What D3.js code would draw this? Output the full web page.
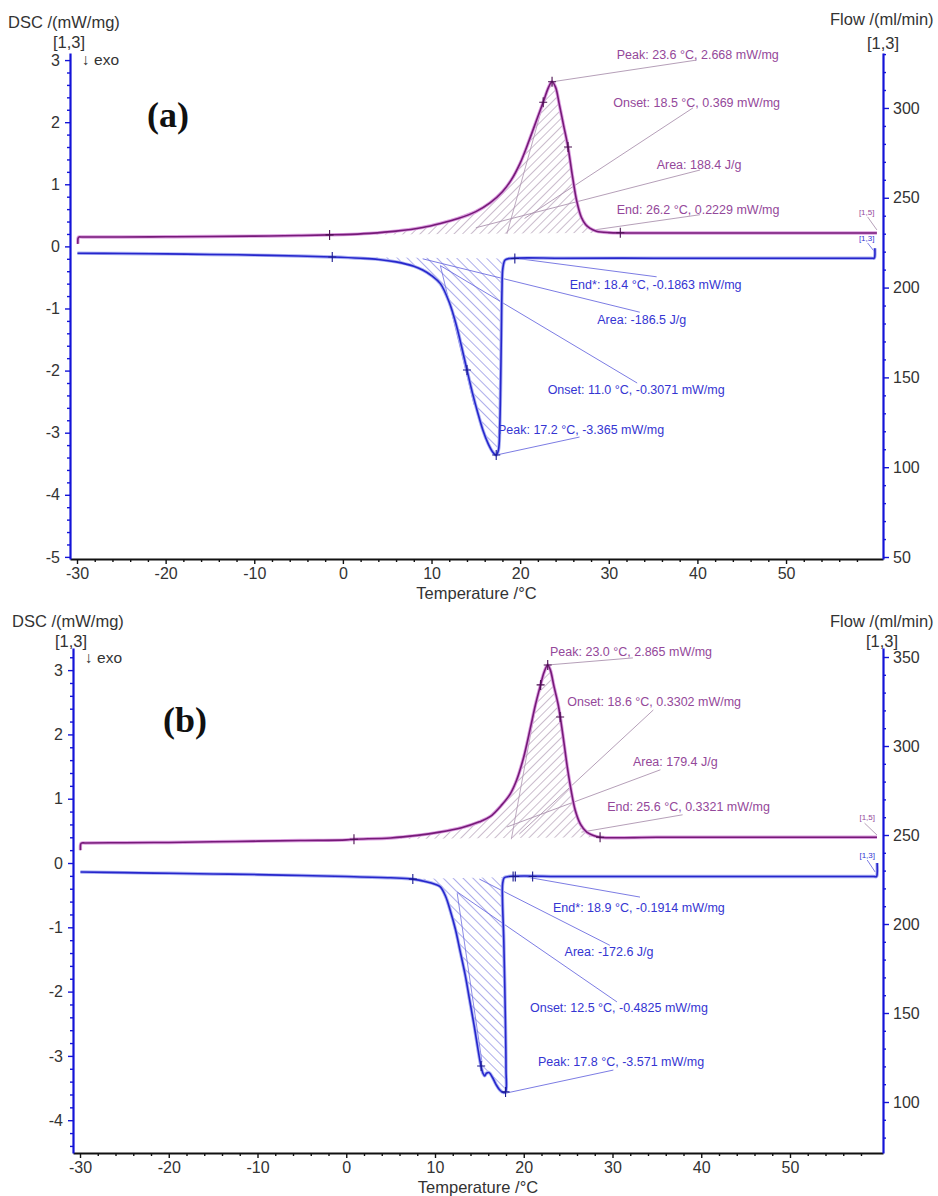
<!DOCTYPE html>
<html><head><meta charset="utf-8">
<script src="https://cdn.jsdelivr.net/npm/d3@7"></script>
<style>
body{margin:0;background:#fff}
svg{display:block}
</style>
</head><body>
<svg id="c" width="938" height="1196"></svg>
<script>
// ---------------- DATA ----------------
const xTicksMajor = [-30,-20,-10,0,10,20,30,40,50];
const dscTicksA = [3,2,1,0,-1,-2,-3,-4,-5];
const flowTicksA = [300,250,200,150,100,50];
const dscTicksB = [3,2,1,0,-1,-2,-3,-4];
const flowTicksB = [350,300,250,200,150,100];

// [Temperature °C, DSC mW/mg]
const heatA = [[-29.9,0.04],[-29.88,0.13],[-29.8,0.15],[-29.4,0.151],[-25,0.152],[-20,0.155],[-15,0.16],[-10,0.165],[-5,0.175],[-1.5,0.185],[0,0.19],[3,0.21],[6,0.245],[9,0.305],[11,0.37],[13,0.45],[15,0.56],[16.6,0.7],[18,0.88],[19,1.07],[20,1.34],[21,1.7],[21.9,2.05],[22.6,2.32],[23.2,2.56],[23.6,2.65],[24.0,2.56],[24.4,2.3],[24.9,1.95],[25.4,1.6],[25.9,1.13],[26.4,0.72],[26.9,0.47],[27.4,0.35],[27.9,0.29],[28.6,0.245],[30,0.222],[35,0.215],[40,0.215],[50,0.215],[59.5,0.215],[60.25,0.215]];
const coolA = [[-29.95,-0.11],[-25,-0.115],[-20,-0.12],[-15,-0.13],[-10,-0.14],[-5,-0.155],[-1.2,-0.17],[2,-0.19],[4,-0.21],[6,-0.25],[8,-0.32],[9,-0.38],[10,-0.47],[11,-0.6],[12,-0.9],[12.8,-1.27],[13.4,-1.62],[14,-1.99],[14.6,-2.35],[15.2,-2.67],[15.8,-2.96],[16.4,-3.18],[16.9,-3.31],[17.3,-3.36],[17.55,-3.28],[17.7,-2.9],[17.8,-2.2],[17.88,-1.4],[17.95,-0.7],[18.05,-0.35],[18.3,-0.22],[18.8,-0.195],[25,-0.19],[35,-0.19],[45,-0.19],[55,-0.19],[59.6,-0.19],[59.95,-0.19],[60.02,-0.15],[60.02,-0.03]];
const heatB = [[-29.95,0.2],[-29.93,0.29],[-29.85,0.31],[-29.4,0.312],[-25,0.315],[-20,0.32],[-15,0.33],[-10,0.34],[-5,0.35],[0,0.36],[0.87,0.37],[5,0.39],[8,0.43],[10.5,0.48],[13,0.55],[15,0.64],[16.2,0.72],[17.5,0.9],[18.5,1.08],[19.2,1.29],[20,1.65],[20.7,2.07],[21.3,2.45],[21.8,2.72],[22.3,2.97],[22.7,3.08],[23.0,3.0],[23.4,2.75],[23.9,2.45],[24.4,2.0],[24.9,1.5],[25.35,1.12],[25.8,0.82],[26.4,0.6],[27.1,0.48],[27.8,0.43],[28.6,0.4],[35,0.4],[45,0.4],[55,0.4],[59.8,0.4]];
const coolB = [[-29.95,-0.14],[-25,-0.15],[-20,-0.16],[-15,-0.17],[-10,-0.18],[-5,-0.195],[0,-0.21],[5,-0.23],[7.5,-0.25],[9,-0.29],[10,-0.33],[10.6,-0.37],[11.2,-0.52],[11.7,-0.73],[12.3,-1.03],[12.8,-1.35],[13.4,-1.74],[13.9,-2.13],[14.4,-2.52],[14.8,-2.86],[15.1,-3.1],[15.4,-3.27],[15.6,-3.31],[15.8,-3.27],[16.1,-3.26],[16.5,-3.34],[16.9,-3.45],[17.3,-3.53],[17.7,-3.57],[17.95,-3.56],[18.0,-3.2],[17.9,-2.2],[17.75,-1.2],[17.6,-0.55],[17.62,-0.32],[17.8,-0.23],[18.3,-0.21],[25,-0.21],[40,-0.21],[55,-0.21],[59.4,-0.21],[59.75,-0.21],[59.82,-0.17],[59.82,0.0]];

// integration limits (°C) and marker temperatures
const hatchA = {heat:[-1.5,31.3], cool:[-1.2,19.4]};
const hatchB = {heat:[0.87,28.6], cool:[7.5,21.0]};
const marksA = {heat:[-1.5,22.6,23.6,25.4,31.3], cool:[-1.2,14.0,17.3,19.4]};
const marksB = {heat:[0.87,21.9,22.7,24.1,28.6], cool:[7.5,15.2,17.95,18.8,19.05,21.0]};

// onset tangent construction lines [[T,v],[T,v]]
const tangA = {heat:[[18.5,0.2],[22.6,2.3]], cool:[[11.0,-0.31],[14.8,-2.55]]};
const tangB = {heat:[[18.6,0.37],[21.5,2.55]], cool:[[12.5,-0.47],[15.3,-3.1]]};

// annotations: text, series, text anchor [T,v], leader from, leader to
const annA = [
 {t:"Peak: 23.6 °C, 2.668 mW/mg", s:"heat", at:[30.9,3.02], a:[23.6,2.65], b:[39.9,3.0]},
 {t:"Onset: 18.5 °C, 0.369 mW/mg", s:"heat", at:[30.5,2.245], a:[39.5,2.23], b:[20.5,0.45]},
 {t:"Area: 188.4 J/g", s:"heat", at:[35.4,1.246], a:[40.3,1.23], b:[15,0.3]},
 {t:"End: 26.2 °C, 0.2229 mW/mg", s:"heat", at:[30.9,0.52], a:[40.3,0.51], b:[28.1,0.26]},
 {t:"End*: 18.4 °C, -0.1863 mW/mg", s:"cool", at:[25.6,-0.69], a:[35.4,-0.49], b:[19.4,-0.19]},
 {t:"Area: -186.5 J/g", s:"cool", at:[28.7,-1.25], a:[33.5,-1.06], b:[9,-0.2]},
 {t:"Onset: 11.0 °C, -0.3071 mW/mg", s:"cool", at:[23.1,-2.38], a:[33.2,-2.2], b:[11.0,-0.31]},
 {t:"Peak: 17.2 °C, -3.365 mW/mg", s:"cool", at:[17.5,-3.02], a:[17.3,-3.36], b:[26.7,-3.07]}
];
const annB = [
 {t:"Peak: 23.0 °C, 2.865 mW/mg", s:"heat", at:[22.96,3.22], a:[22.7,3.08], b:[32.3,3.19]},
 {t:"Onset: 18.6 °C, 0.3302 mW/mg", s:"heat", at:[24.9,2.44], a:[34.6,2.38], b:[19.5,0.45]},
 {t:"Area: 179.4 J/g", s:"heat", at:[32.3,1.51], a:[35.4,1.45], b:[18.1,0.56]},
 {t:"End: 25.6 °C, 0.3321 mW/mg", s:"heat", at:[29.4,0.81], a:[37.9,0.75], b:[26.5,0.48]},
 {t:"End*: 18.9 °C, -0.1914 mW/mg", s:"cool", at:[23.3,-0.76], a:[33.1,-0.53], b:[20.4,-0.22]},
 {t:"Area: -172.6 J/g", s:"cool", at:[24.6,-1.45], a:[29.7,-1.28], b:[15,-0.25]},
 {t:"Onset: 12.5 °C, -0.4825 mW/mg", s:"cool", at:[20.7,-2.32], a:[30.5,-2.16], b:[12.5,-0.45]},
 {t:"Peak: 17.8 °C, -3.571 mW/mg", s:"cool", at:[21.6,-3.16], a:[17.95,-3.58], b:[30.1,-3.22]}
];
// segment labels at the curve ends
const endA = [
 {t:"[1,5]", s:"heat", at:[59.1,0.506], a:[59.2,0.475], b:[60.25,0.265]},
 {t:"[1,3]", s:"cool", at:[59.1,0.087], a:[59.2,0.055], b:[60.0,-0.09]}
];
const endB = [
 {t:"[1,5]", s:"heat", at:[58.7,0.67], a:[58.4,0.62], b:[59.8,0.435]},
 {t:"[1,3]", s:"cool", at:[58.7,0.078], a:[58.7,0.047], b:[59.6,-0.14]}
];

// ---------------- LAYOUT / STYLE ----------------
const panels = [
 {lab:"(a)", labPos:[147,127], left:70, right:883, top:53, bottom:559,
  xd:[-30.79,60.94], yd:[-5.034,3.114], fd:[48.89,330.6],
  dscT:dscTicksA, flowT:flowTicksA, heat:heatA, cool:coolA, hatch:hatchA, marks:marksA, tang:tangA, ann:annA, ends:endA,
  dscTitle:[8,28], dscSeg:[69,48], exo:[82,65], flowTitle:[830,25], flowSeg:[883,49], tempY:599},
 {lab:"(b)", labPos:[163,732], left:73, right:883, top:648, bottom:1153,
  xd:[-30.79,60.48], yd:[-4.51,3.344], fd:[71.35,355.06],
  dscT:dscTicksB, flowT:flowTicksB, heat:heatB, cool:coolB, hatch:hatchB, marks:marksB, tang:tangB, ann:annB, ends:endB,
  dscTitle:[12,627], dscSeg:[71,647], exo:[85,663], flowTitle:[830,627], flowSeg:[882,647], tempY:1193}
];
const C = {
 axis:"#1414d8", heat:"#761a78", heatHalo:"#dc9ee0", cool:"#2626cc", coolHalo:"#aab0f2",
 heatText:"#94489a", coolText:"#3535d2", heatLead:"#ad94b0", coolLead:"#6d6de0",
 heatHatch:"#8c6c90", coolHatch:"#4a4ad2", tick:"#333"
};
const FONT = '"Liberation Sans",Arial,sans-serif';
const SERIF = '"Liberation Serif","Times New Roman",serif';

const svg = d3.select("#c");
const defs = svg.append("defs");
function pattern(id,color,angle,sp){
  defs.append("pattern").attr("id",id).attr("patternUnits","userSpaceOnUse")
    .attr("width",sp).attr("height",sp).attr("patternTransform",`rotate(${angle})`)
    .append("line").attr("x1",0).attr("y1",0).attr("x2",0).attr("y2",sp)
    .attr("stroke",color).attr("stroke-width",0.9);
}
pattern("hp",C.heatHatch,45,6);
pattern("hb",C.coolHatch,-45,7);

function interpAt(pts,t,start){
  for(let i=start;i<pts.length-1;i++){
    const a=pts[i],b=pts[i+1];
    if((a[0]-t)*(b[0]-t)<=0 && a[0]!==b[0]){
      const f=(t-a[0])/(b[0]-a[0]);
      return {i, v:a[1]+f*(b[1]-a[1])};
    }
  }
  return null;
}
const fmt = d => String(d);

panels.forEach(P=>{
  const g = svg.append("g");
  const x = d3.scaleLinear().domain(P.xd).range([P.left,P.right]);
  const y = d3.scaleLinear().domain(P.yd).range([P.bottom,P.top]);
  const yf = d3.scaleLinear().domain(P.fd).range([P.bottom,P.top]);
  const line = d3.line().x(d=>x(d[0])).y(d=>y(d[1])).curve(d3.curveCatmullRom.alpha(0.5));

  // hatch areas
  [["heat","hp"],["cool","hb"]].forEach(([s,pid])=>{
    const pts=P[s], [t0,t1]=P.hatch[s];
    const A=interpAt(pts,t0,0), B=interpAt(pts,t1,A.i+1);
    const sub=[[t0,A.v]];
    for(let k=A.i+1;k<=B.i;k++){ if(Math.abs(pts[k][0]-t0)>1e-6 && Math.abs(pts[k][0]-t1)>1e-6) sub.push(pts[k]); }
    sub.push([t1,B.v]);
    const d=line(sub)+`L${x(t0)},${y(A.v)}Z`;
    g.append("path").attr("d",d).attr("fill",`url(#${pid})`).attr("stroke","none");
  });

  // tangent construction lines
  [["heat",C.heatLead],["cool",C.coolLead]].forEach(([s,col])=>{
    g.append("path").attr("d",d3.line().x(d=>x(d[0])).y(d=>y(d[1]))(P.tang[s]))
     .attr("stroke",col).attr("stroke-width",0.8).attr("fill","none");
  });

  // annotation leaders
  P.ann.concat(P.ends).forEach(A=>{
    g.append("line").attr("x1",x(A.a[0])).attr("y1",y(A.a[1])).attr("x2",x(A.b[0])).attr("y2",y(A.b[1]))
     .attr("stroke",A.s==="heat"?C.heatLead:C.coolLead).attr("stroke-width",0.9);
  });

  // curves
  [["heat",C.heatHalo,C.heat],["cool",C.coolHalo,C.cool]].forEach(([s,halo,col])=>{
    g.append("path").attr("d",line(P[s])).attr("fill","none").attr("stroke",halo).attr("stroke-width",3.4).attr("stroke-linejoin","round");
    g.append("path").attr("d",line(P[s])).attr("fill","none").attr("stroke",col).attr("stroke-width",1.6).attr("stroke-linejoin","round");
  });

  // markers (+)
  ["heat","cool"].forEach(s=>{
    P.marks[s].forEach(t=>{
      const r=interpAt(P[s],t,0); const cx=x(t), cy=y(r.v);
      g.append("path").attr("d",`M${cx-4},${cy}H${cx+4}M${cx},${cy-5}V${cy+5}`)
       .attr("stroke",s==="heat"?"#4a1050":"#1a1a90").attr("stroke-width",1.1);
    });
  });

  // annotation texts
  P.ann.forEach(A=>{
    g.append("text").attr("x",x(A.at[0])).attr("y",y(A.at[1])).text(A.t)
     .attr("font-size",12.5).attr("fill",A.s==="heat"?C.heatText:C.coolText).style("font-family",FONT);
  });
  P.ends.forEach(A=>{
    g.append("text").attr("x",x(A.at[0])).attr("y",y(A.at[1])).attr("text-anchor","middle").text(A.t)
     .attr("font-size",8).attr("fill",A.s==="heat"?C.heatText:C.coolText).style("font-family",FONT);
  });

  // axes
  const xMinor = d3.range(-30,59,2).filter(v=>v%10!==0);
  const gx = g.append("g").attr("transform",`translate(0,${P.bottom})`)
    .call(d3.axisBottom(x).tickValues(xTicksMajor).tickSize(5).tickSizeOuter(0).tickPadding(4).tickFormat(fmt));
  const gxm = g.append("g").attr("transform",`translate(0,${P.bottom})`)
    .call(d3.axisBottom(x).tickValues(xMinor).tickSize(3).tickSizeOuter(0).tickFormat(""));
  gxm.select(".domain").remove();
  [gx,gxm].forEach(a=>{a.selectAll(".tick line").attr("stroke","#111").attr("stroke-width",1.4);});
  gx.select(".domain").attr("stroke","#111").attr("stroke-width",1.8);

  const yMinor = d3.range(Math.ceil(P.yd[0]*5),Math.floor(P.yd[1]*5)+1).map(k=>k/5).filter(v=>Math.abs(v-Math.round(v))>1e-6);
  const gy = g.append("g").attr("transform",`translate(${P.left},0)`)
    .call(d3.axisLeft(y).tickValues(P.dscT).tickSize(5).tickSizeOuter(0).tickPadding(5).tickFormat(fmt));
  const gym = g.append("g").attr("transform",`translate(${P.left},0)`)
    .call(d3.axisLeft(y).tickValues(yMinor).tickSize(3).tickSizeOuter(0).tickFormat(""));
  gym.select(".domain").remove();

  const fMinor = d3.range(Math.ceil(P.fd[0]/10),Math.floor(P.fd[1]/10)+1).map(k=>k*10).filter(v=>v%50!==0);
  const gf = g.append("g").attr("transform",`translate(${P.right},0)`)
    .call(d3.axisRight(yf).tickValues(P.flowT).tickSize(6).tickSizeOuter(0).tickPadding(4).tickFormat(fmt));
  const gfm = g.append("g").attr("transform",`translate(${P.right},0)`)
    .call(d3.axisRight(yf).tickValues(fMinor).tickSize(3).tickSizeOuter(0).tickFormat(""));
  gfm.select(".domain").remove();
  [gy,gym,gf,gfm].forEach(a=>{a.selectAll(".tick line").attr("stroke",C.axis).attr("stroke-width",1.4);});
  [gy,gf].forEach(a=>a.select(".domain").attr("stroke",C.axis).attr("stroke-width",2.2));
  [gx,gy,gf].forEach(a=>a.selectAll("text").attr("font-size",16).attr("fill",C.tick).style("font-family",FONT));

  // titles
  const T = (xx,yy,txt,opt={})=>g.append("text").attr("x",xx).attr("y",yy).text(txt)
      .attr("font-size",opt.fs||16.5).attr("fill",opt.fill||"#333").attr("text-anchor",opt.anchor||"start")
      .style("font-family",opt.ff||FONT).attr("font-weight",opt.fw||"normal");
  T(P.dscTitle[0],P.dscTitle[1],"DSC /(mW/mg)");
  T(P.dscSeg[0],P.dscSeg[1],"[1,3]",{anchor:"middle"});
  T(P.exo[0],P.exo[1],"↓ exo",{fs:15.5});
  T(P.flowTitle[0],P.flowTitle[1],"Flow /(ml/min)");
  T(P.flowSeg[0],P.flowSeg[1],"[1,3]",{anchor:"middle"});
  T((P.left+P.right)/2,P.tempY,"Temperature /°C",{anchor:"middle"});
  T(P.labPos[0],P.labPos[1],P.lab,{fs:36,fw:"bold",ff:SERIF,fill:"#111"});
});
</script>
</body></html>
